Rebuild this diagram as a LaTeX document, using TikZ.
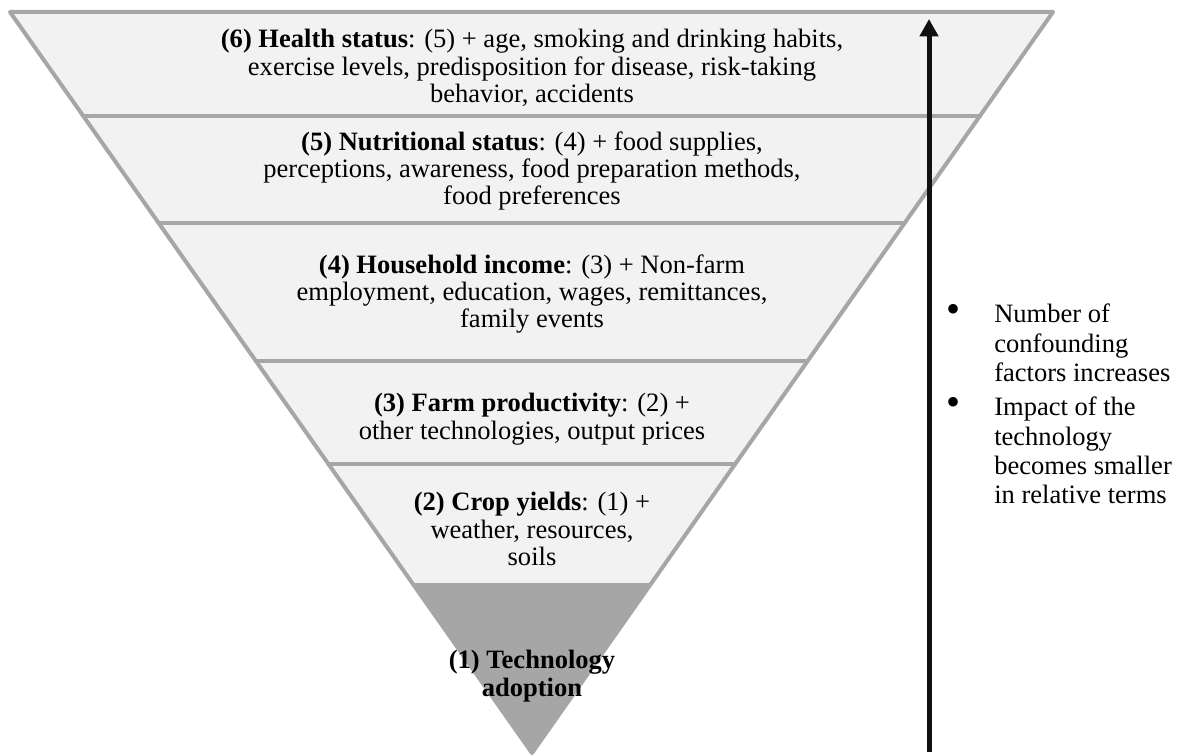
\documentclass[tikz,border=0pt]{standalone}
\usepackage{fontspec}
\setmainfont{Liberation Serif}
\usetikzlibrary{arrows.meta,calc}
\definecolor{bandfill}{HTML}{F2F2F2}
\definecolor{bandline}{HTML}{A6A6A6}
\definecolor{arrowink}{HTML}{111111}
\begin{document}
\begin{tikzpicture}[x=0.75pt,y=-0.75pt,
  bandtext/.style={align=center,inner sep=0pt,text=black,
    font=\fontsize{19.9}{20.6}\selectfont},
  sidetext/.style={align=left,inner sep=0pt,anchor=north west,text=black,
    font=\fontsize{19.9}{21.8}\selectfont},
  bulletmark/.style={inner sep=0pt,anchor=center,text=black,
    font=\fontsize{30}{30}\selectfont},
  edge/.style={draw=bandline,line width=3pt,line join=round,line cap=round},
  upward/.style={draw=arrowink,line width=3.75pt,
    -{Triangle[width=13.5pt,length=13pt]}}]
\useasboundingbox (0,0) rectangle (1178,756);

% outer corners of the inverted triangle
\coordinate (TL) at (10,12);
\coordinate (TR) at (1053,12);
\coordinate (AP) at (532,753);

% band boundaries on both slanted sides
\foreach \name/\t in {b5/0.1403,b4/0.2848,b3/0.4710,b2/0.6100,b1/0.7706}{
  \coordinate (\name L) at ($(TL)!\t!(AP)$);
  \coordinate (\name R) at ($(TR)!\t!(AP)$);
}

% fills
\fill[bandfill] (TL) -- (TR) -- (AP) -- cycle;
\fill[bandline] (b1L) -- (b1R) -- (AP) -- cycle;

% separators and outline
\foreach \name in {b5,b4,b3,b2}{
  \draw[edge] (\name L) -- (\name R);
}
\draw[edge] (TL) -- (TR) -- (AP) -- cycle;

% band labels
\node[bandtext] (lvl6) at (532,68)
  {\textbf{(6) Health status}: (5) + age, smoking and drinking habits,\\
   exercise levels, predisposition for disease, risk-taking\\
   behavior, accidents};
\node[bandtext] (lvl5) at (532,171)
  {\textbf{(5) Nutritional status}: (4) + food supplies,\\
   perceptions, awareness, food preparation methods,\\
   food preferences};
\node[bandtext] (lvl4) at (532,294)
  {\textbf{(4) Household income}: (3) + Non-farm\\
   employment, education, wages, remittances,\\
   family events};
\node[bandtext] (lvl3) at (532,419)
  {\textbf{(3) Farm productivity}: (2) +\\
   other technologies, output prices};
\node[bandtext] (lvl2) at (532,529)
  {\textbf{(2) Crop yields}: (1) +\\
   weather, resources,\\
   soils};
\node[bandtext] (lvl1) at (532,676)
  {\textbf{(1) Technology}\\ \textbf{adoption}};

% direction arrow
\coordinate (arrowfoot) at (929,752);
\coordinate (arrowtip) at (929,19);
\draw[upward] (arrowfoot) -- (arrowtip);

% side notes
\node[bulletmark] (dot1) at (953,313) {•};
\node[sidetext] (note1) at (994,304)
  {Number of\\ confounding\\ factors increases};
\node[bulletmark] (dot2) at (953,406) {•};
\node[sidetext] (note2) at (994,397)
  {Impact of the\\ technology\\ becomes smaller\\ in relative terms};
\end{tikzpicture}
\end{document}
